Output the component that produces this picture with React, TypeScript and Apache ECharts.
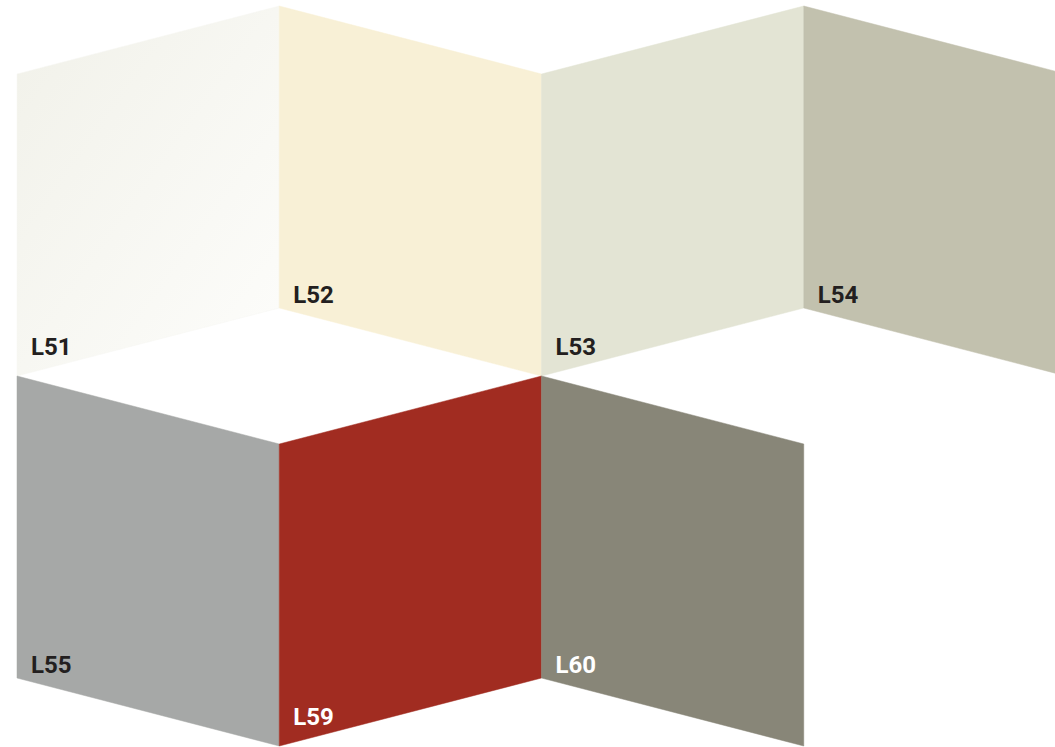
import React, { useEffect, useRef } from "react";
import * as echarts from "echarts";

// Swatch codes, one list per row
const row1Codes: string[] = ["L51", "L52", "L53", "L54"];
const row2Codes: string[] = ["L55", "L59", "L60"];

// Swatch colours, same order as the codes
const row1Colors: string[] = ["#f7f7f2", "#f8f0d6", "#e3e4d4", "#c2c1ae"];
const row2Colors: string[] = ["#a6a8a7", "#a12c21", "#888678"];

// Label text colours
const row1LabelColors: string[] = ["#231f20", "#231f20", "#231f20", "#231f20"];
const row2LabelColors: string[] = ["#231f20", "#ffffff", "#ffffff"];

// Geometry (px) of the folded panels
const TOP = 6;
const SLOPE = 68;
const PANEL_H = 302;
const PITCH = 370;
const COL_W = 262.25;
const LEFT = 17;
const W = 1055;
const H = 747;

export default function App() {
  const ref = useRef<HTMLDivElement>(null);

  useEffect(() => {
    if (!ref.current) return;
    const chart = echarts.init(ref.current, undefined, { renderer: "svg" });

    const rows = [
      { codes: row1Codes, colors: row1Colors, labels: row1LabelColors },
      { codes: row2Codes, colors: row2Colors, labels: row2LabelColors },
    ];
    const data: any[] = [];
    rows.forEach((r, ri) => {
      r.codes.forEach((code, ci) => {
        data.push({ value: [ci, ri], name: code, fill: r.colors[ci], labelColor: r.labels[ci] });
      });
    });

    const xMin = -LEFT / COL_W;
    const xMax = xMin + W / COL_W;

    const option: any = {
      animation: false,
      backgroundColor: "#ffffff",
      grid: { left: 0, right: 0, top: 0, bottom: 0 },
      xAxis: { type: "value", min: xMin, max: xMax, show: false },
      yAxis: { type: "value", min: 0, max: H, inverse: true, show: false },
      series: [
        {
          type: "custom",
          clip: true,
          data,
          renderItem: (params: any, api: any) => {
            const item = data[params.dataIndex];
            const col = api.value(0);
            const row = api.value(1);
            const leftHigh = (col + row) % 2 === 1;
            const top = TOP + row * PITCH;
            const yl = leftHigh ? top : top + SLOPE;
            const yr = leftHigh ? top + SLOPE : top;
            const p1 = api.coord([col, yl]);
            const p2 = api.coord([col + 1, yr]);
            const p3 = api.coord([col + 1, yr + PANEL_H]);
            const p4 = api.coord([col, yl + PANEL_H]);
            let fill: any = item.fill;
            if (item.name === "L51") {
              fill = new echarts.graphic.LinearGradient(0, 0, 1, 1, [
                { offset: 0, color: "#f1f1e9" },
                { offset: 1, color: "#fdfdfb" },
              ]);
            }
            const baseline = p4[1] - (leftHigh ? 1 : 17);
            return {
              type: "group",
              children: [
                {
                  type: "polygon",
                  shape: { points: [p1, p2, p3, p4] },
                  style: { fill, stroke: item.fill, lineWidth: 0.5 },
                },
                {
                  type: "text",
                  x: p4[0] + 14,
                  y: baseline,
                  style: {
                    text: item.name,
                    fill: item.labelColor,
                    font: "bold 24px Roboto",
                    textAlign: "left",
                    textVerticalAlign: "bottom",
                  },
                },
              ],
            };
          },
        },
      ],
    };
    chart.setOption(option);
    return () => chart.dispose();
  }, []);

  return (
    <div
      ref={ref}
      style={{ position: "absolute", left: 0, top: 0, width: W, height: H }}
    />
  );
}
